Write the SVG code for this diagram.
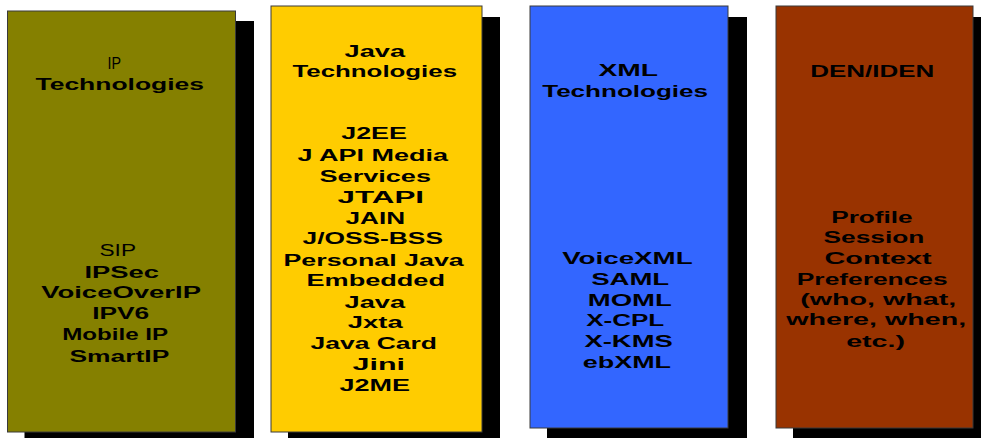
<svg xmlns="http://www.w3.org/2000/svg" width="981" height="438" viewBox="0 0 981 438">
<style>
.sh{fill:#000}
.bx{stroke:#3a3a3a;stroke-width:1}
text{font-family:"Liberation Sans",Arial,sans-serif;font-size:16px;font-weight:bold;fill:#000}
text.n{font-weight:normal}
</style>
<rect width="981" height="438" fill="#fff"/>
<g id="ip">
<rect class="sh" x="24.5" y="21" width="229.5" height="430"/>
<rect class="bx" x="7.5" y="11" width="228" height="421" fill="#858000"/>
<text class="n" x="107.5" y="69" textLength="13.5" lengthAdjust="spacingAndGlyphs">IP</text>
<text x="35.5" y="90" textLength="168.5" lengthAdjust="spacingAndGlyphs">Technologies</text>
<text class="n" x="99.5" y="255.7" textLength="36.5" lengthAdjust="spacingAndGlyphs">SIP</text>
<text x="84.5" y="277.7" textLength="74.5" lengthAdjust="spacingAndGlyphs">IPSec</text>
<text x="41.2" y="298.3" textLength="159.8" lengthAdjust="spacingAndGlyphs">VoiceOverIP</text>
<text x="92.2" y="319.3" textLength="57" lengthAdjust="spacingAndGlyphs">IPV6</text>
<text x="62.2" y="340" textLength="106" lengthAdjust="spacingAndGlyphs">Mobile IP</text>
<text x="69.5" y="361.7" textLength="99.8" lengthAdjust="spacingAndGlyphs">SmartIP</text>
</g>
<g id="java">
<rect class="sh" x="288" y="17" width="212" height="430"/>
<rect class="bx" x="271" y="6" width="211" height="426" fill="#ffcc00"/>
<text x="344.5" y="56.7" textLength="60.5" lengthAdjust="spacingAndGlyphs">Java</text>
<text x="292.5" y="76.7" textLength="164.5" lengthAdjust="spacingAndGlyphs">Technologies</text>
<text x="341.2" y="139.3" textLength="65.8" lengthAdjust="spacingAndGlyphs">J2EE</text>
<text x="297.5" y="160.5" textLength="150.5" lengthAdjust="spacingAndGlyphs">J API Media</text>
<text x="319.5" y="181.6" textLength="111.5" lengthAdjust="spacingAndGlyphs">Services</text>
<text x="337.5" y="203.3" textLength="86.5" lengthAdjust="spacingAndGlyphs">JTAPI</text>
<text x="345.5" y="224" textLength="59.5" lengthAdjust="spacingAndGlyphs">JAIN</text>
<text x="302.5" y="244.3" textLength="140.5" lengthAdjust="spacingAndGlyphs">J/OSS-BSS</text>
<text x="283.5" y="265.7" textLength="180.2" lengthAdjust="spacingAndGlyphs">Personal Java</text>
<text x="306.5" y="286" textLength="138.5" lengthAdjust="spacingAndGlyphs">Embedded</text>
<text x="344.5" y="307.7" textLength="60.5" lengthAdjust="spacingAndGlyphs">Java</text>
<text x="347.8" y="327.7" textLength="54.9" lengthAdjust="spacingAndGlyphs">Jxta</text>
<text x="310.5" y="349.3" textLength="126.5" lengthAdjust="spacingAndGlyphs">Java Card</text>
<text x="352.5" y="370" textLength="52.5" lengthAdjust="spacingAndGlyphs">Jini</text>
<text x="339.5" y="390.7" textLength="70.5" lengthAdjust="spacingAndGlyphs">J2ME</text>
</g>
<g id="xml">
<rect class="sh" x="547" y="17" width="200" height="430"/>
<rect class="bx" x="530" y="6" width="198" height="422" fill="#3366ff"/>
<text x="598.5" y="76" textLength="59.5" lengthAdjust="spacingAndGlyphs">XML</text>
<text x="542.2" y="96.7" textLength="165.8" lengthAdjust="spacingAndGlyphs">Technologies</text>
<text x="562.2" y="264" textLength="130.5" lengthAdjust="spacingAndGlyphs">VoiceXML</text>
<text x="591.2" y="285" textLength="78" lengthAdjust="spacingAndGlyphs">SAML</text>
<text x="587.8" y="305.7" textLength="83.9" lengthAdjust="spacingAndGlyphs">MOML</text>
<text x="586.2" y="326" textLength="78" lengthAdjust="spacingAndGlyphs">X-CPL</text>
<text x="584.5" y="347.3" textLength="88.2" lengthAdjust="spacingAndGlyphs">X-KMS</text>
<text x="582.8" y="368.3" textLength="88.2" lengthAdjust="spacingAndGlyphs">ebXML</text>
</g>
<g id="den">
<rect class="sh" x="793" y="17" width="200" height="430"/>
<rect class="bx" x="776" y="6" width="197" height="422" fill="#993300"/>
<text x="810.2" y="76.7" textLength="124" lengthAdjust="spacingAndGlyphs">DEN/IDEN</text>
<text x="831.2" y="223.3" textLength="81.5" lengthAdjust="spacingAndGlyphs">Profile</text>
<text x="823.5" y="243.3" textLength="100.8" lengthAdjust="spacingAndGlyphs">Session</text>
<text x="824.5" y="264" textLength="107.2" lengthAdjust="spacingAndGlyphs">Context</text>
<text x="796.8" y="285" textLength="150.9" lengthAdjust="spacingAndGlyphs">Preferences</text>
<text x="800.2" y="305" textLength="156" lengthAdjust="spacingAndGlyphs">(who, what,</text>
<text x="786.2" y="325" textLength="180" lengthAdjust="spacingAndGlyphs">where, when,</text>
<text x="846.2" y="346.7" textLength="58.8" lengthAdjust="spacingAndGlyphs">etc.)</text>
</g>
<g id="connectors"/>
</svg>
